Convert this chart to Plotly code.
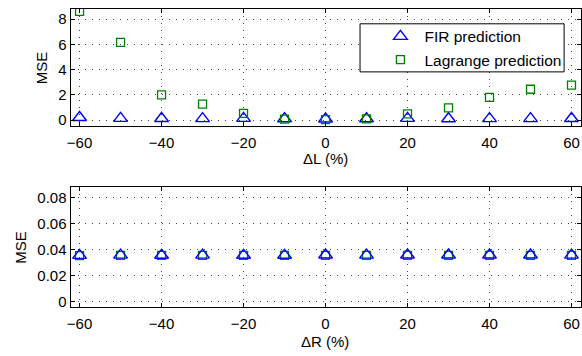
import plotly.graph_objects as go

x_vals = [-60, -50, -40, -30, -20, -10, 0, 10, 20, 30, 40, 50, 60]
fir_L = [0.22, 0.15, 0.14, 0.13, 0.15, 0.12, 0.10, 0.12, 0.15, 0.12, 0.13, 0.13, 0.14]
lag_L = [8.6, 6.15, 2.0, 1.28, 0.55, 0.08, 0.05, 0.1, 0.5, 0.97, 1.8, 2.45, 2.77]
fir_R = [0.0355, 0.0357, 0.0356, 0.0357, 0.0356, 0.0356, 0.0358, 0.0357, 0.0358, 0.0358, 0.0358, 0.0358, 0.0357]
lag_R = [0.0354, 0.0355, 0.0355, 0.0355, 0.0355, 0.0355, 0.0356, 0.0355, 0.0356, 0.0356, 0.0356, 0.0356, 0.0355]
x_ticks = [-60, -40, -20, 0, 20, 40, 60]
yL_ticks = [0, 2, 4, 6, 8]
yR_ticks = [0, 0.02, 0.04, 0.06, 0.08]
yR_labels = ["0", "0.02", "0.04", "0.06", "0.08"]

BLUE = "rgb(0,0,255)"
GREEN = "rgb(0,128,0)"
FONT = "Liberation Sans, Arial, sans-serif"
FS = 15

tri = dict(symbol="triangle-up-open", size=12, color=BLUE, line=dict(width=1.4, color=BLUE))
sq = dict(symbol="square-open", size=8, color=GREEN, line=dict(width=1.3, color=GREEN))

fig = go.Figure()
fig.add_trace(go.Scatter(x=x_vals, y=fir_L, mode="markers", name="FIR prediction",
                         marker=tri, xaxis="x", yaxis="y"))
fig.add_trace(go.Scatter(x=x_vals, y=lag_L, mode="markers", name="Lagrange prediction",
                         marker=sq, xaxis="x", yaxis="y"))
fig.add_trace(go.Scatter(x=x_vals, y=lag_R, mode="markers", showlegend=False,
                         marker=sq, xaxis="x2", yaxis="y2"))
fig.add_trace(go.Scatter(x=x_vals, y=fir_R, mode="markers", showlegend=False,
                         marker=tri, xaxis="x2", yaxis="y2"))

W, H = 582, 356
xdom = [67 / W, 580.5 / W]

common = dict(showline=True, linecolor="black", linewidth=1, mirror="ticks",
              ticks="inside", ticklen=4, tickcolor="black", tickwidth=1,
              showgrid=True, gridcolor="rgb(70,70,70)", gridwidth=1, griddash="1px,6px",
              zeroline=False, tickfont=dict(size=FS, color="black", family=FONT))

fig.update_layout(
    width=W, height=H, margin=dict(l=0, r=0, t=0, b=0),
    paper_bgcolor="white", plot_bgcolor="white",
    font=dict(family=FONT, color="black", size=FS),
    xaxis=dict(domain=xdom, range=[-62.2, 62.2], tickvals=x_ticks, anchor="y",
               ticklabelstandoff=3, **common),
    yaxis=dict(domain=[1 - 127 / H, 1 - 9 / H], range=[-0.45, 8.8], tickvals=yL_ticks, anchor="x", **common),
    xaxis2=dict(domain=xdom, range=[-62.2, 62.2], tickvals=x_ticks, anchor="y2",
                ticklabelstandoff=3, **common),
    yaxis2=dict(domain=[1 - 310 / H, 1 - 188.3 / H], range=[-0.0043, 0.0881], tickvals=yR_ticks,
                ticktext=yR_labels, anchor="x2", **common),
    legend=dict(x=375 / W, y=1 - 20 / H, xanchor="left", yanchor="top",
                borderwidth=0, bgcolor="rgba(0,0,0,0)",
                font=dict(size=15.5, color="black", family=FONT), itemwidth=38,
                tracegroupgap=0),
    showlegend=True,
)

# legend frame (white box with black border, like the reference)
fig.add_shape(type="rect", xref="paper", yref="paper",
              x0=358.5 / W, x1=564 / W, y0=1 - 72.5 / H, y1=1 - 24 / H,
              line=dict(color="black", width=1), fillcolor="white", layer="above")

fig.add_annotation(text="ΔL (%)", x=323.5 / W, y=1 - 160 / H, xref="paper", yref="paper",
                   showarrow=False, font=dict(size=FS), xanchor="center", yanchor="middle")
fig.add_annotation(text="ΔR (%)", x=323.5 / W, y=1 - 344 / H, xref="paper", yref="paper",
                   showarrow=False, font=dict(size=FS), xanchor="center", yanchor="middle")
fig.add_annotation(text="MSE", x=38 / W, y=1 - 68 / H, xref="paper", yref="paper", textangle=-90,
                   showarrow=False, font=dict(size=FS), xanchor="center", yanchor="middle")
fig.add_annotation(text="MSE", x=17 / W, y=1 - 249 / H, xref="paper", yref="paper", textangle=-90,
                   showarrow=False, font=dict(size=FS), xanchor="center", yanchor="middle")

fig.write_html("out.html")
